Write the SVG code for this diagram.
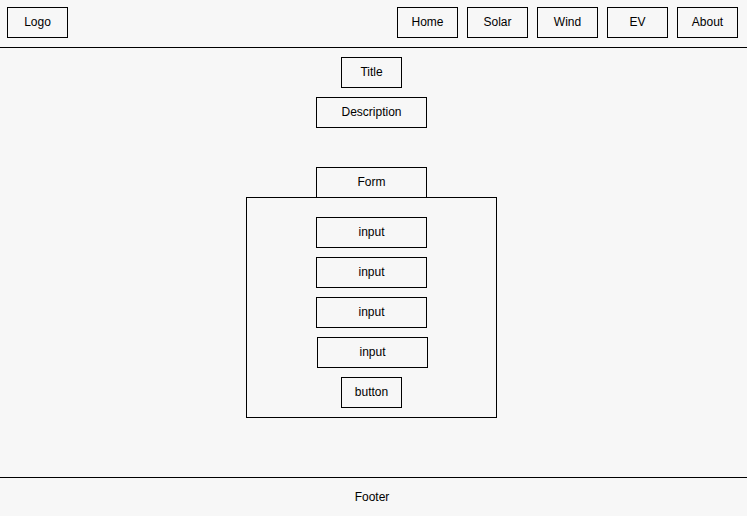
<svg xmlns="http://www.w3.org/2000/svg" width="747" height="516" viewBox="0 0 747 516">
<style>
.b{fill:none;stroke:#000;stroke-width:1}
.t{font-family:"Liberation Sans",Arial,sans-serif;font-size:12px;fill:#000;text-anchor:middle;dominant-baseline:central}
.l{stroke:#000;stroke-width:1}
</style>
<rect width="747" height="516" fill="#f7f7f7"/>
<g id="header"><line class="l" x1="0" y1="47.5" x2="747" y2="47.5"/></g>
<g id="logo"><rect class="b" x="7.5" y="7.5" width="60" height="30"/><text class="t" x="37.5" y="21.5">Logo</text></g>
<g id="home"><rect class="b" x="397.5" y="7.5" width="60" height="30"/><text class="t" x="427.5" y="21.5">Home</text></g>
<g id="solar"><rect class="b" x="467.5" y="7.5" width="60" height="30"/><text class="t" x="497.5" y="21.5">Solar</text></g>
<g id="wind"><rect class="b" x="537.5" y="7.5" width="60" height="30"/><text class="t" x="567.5" y="21.5">Wind</text></g>
<g id="ev"><rect class="b" x="607.5" y="7.5" width="60" height="30"/><text class="t" x="637.5" y="21.5">EV</text></g>
<g id="about"><rect class="b" x="677.5" y="7.5" width="60" height="30"/><text class="t" x="707.5" y="21.5">About</text></g>
<g id="title"><rect class="b" x="341.5" y="57.5" width="60" height="30"/><text class="t" x="371.5" y="71.5">Title</text></g>
<g id="description"><rect class="b" x="316.5" y="97.5" width="110" height="30"/><text class="t" x="371.5" y="111.5">Description</text></g>
<g id="form-label"><rect class="b" x="316.5" y="167.5" width="110" height="30"/><text class="t" x="371.5" y="181.5">Form</text></g>
<g id="form"><rect class="b" x="246.5" y="197.5" width="250" height="220"/></g>
<g id="input1"><rect class="b" x="316.5" y="217.5" width="110" height="30"/><text class="t" x="371.5" y="231.5">input</text></g>
<g id="input2"><rect class="b" x="316.5" y="257.5" width="110" height="30"/><text class="t" x="371.5" y="271.5">input</text></g>
<g id="input3"><rect class="b" x="316.5" y="297.5" width="110" height="30"/><text class="t" x="371.5" y="311.5">input</text></g>
<g id="input4"><rect class="b" x="317.5" y="337.5" width="110" height="30"/><text class="t" x="372.5" y="351.5">input</text></g>
<g id="button"><rect class="b" x="341.5" y="377.5" width="60" height="30"/><text class="t" x="371.5" y="391.5">button</text></g>
<g id="footer"><line class="l" x1="0" y1="477.5" x2="747" y2="477.5"/><text class="t" x="372" y="496.5">Footer</text></g>
<g id="connectors"></g>
</svg>
